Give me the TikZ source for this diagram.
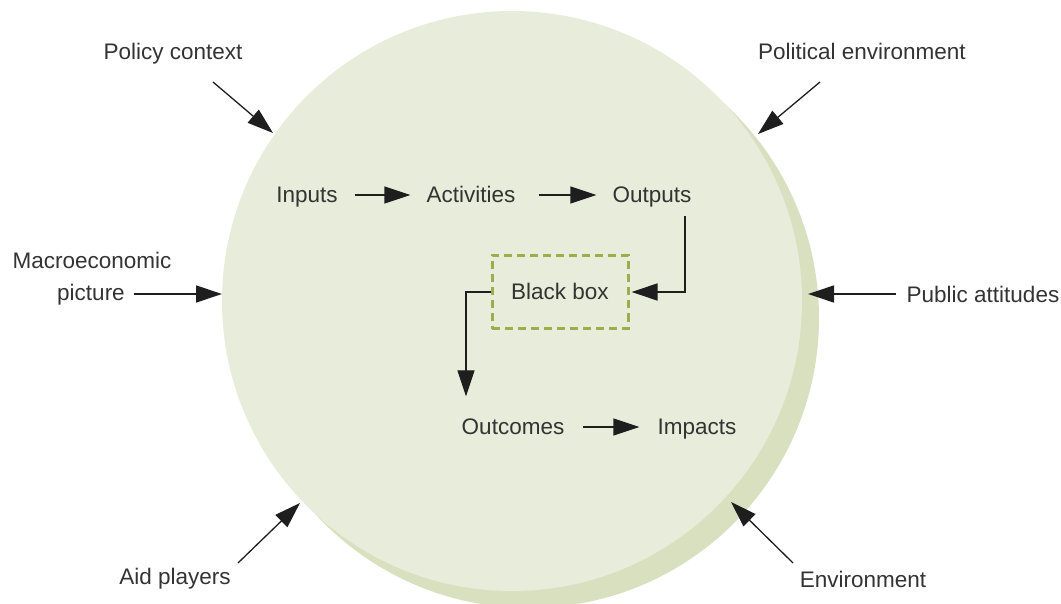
\documentclass[tikz,border=0pt]{standalone}
\usepackage{fontspec}
\setmainfont{Liberation Sans}
\usetikzlibrary{arrows.meta}
\definecolor{circfill}{HTML}{E8ECDA}
\definecolor{shadowfill}{HTML}{D9E0BF}
\definecolor{boxdash}{HTML}{9AAE4C}
\definecolor{txt}{HTML}{333333}
\definecolor{arrowcol}{HTML}{1E1E1E}
\begin{document}
\begin{tikzpicture}[x=1pt,y=-1pt,
  lbl/.style={inner sep=0pt, text=txt, font=\fontsize{22.5}{26}\selectfont,
              text height=16pt, text depth=1pt},
  arr/.style={draw=arrowcol, line width=1.3pt, -{Triangle[length=26pt,width=17pt]}},
  plain/.style={draw=arrowcol, line width=1.3pt}]
\clip (0,0) rectangle (1061,604);
\useasboundingbox (0,0) rectangle (1061,604);
% circles
\fill[shadowfill] (529,318) circle[radius=290];
\fill[circfill] (512,301) circle[radius=290];
% outside labels
\node[lbl] (policy) at (173,52) {Policy context};
\node[lbl] (political) at (862,52) {Political environment};
\node[lbl] (macro) at (92,261) {Macroeconomic};
\node[lbl] (picture) at (91,293) {picture};
\node[lbl] (public) at (983,295) {Public attitudes};
\node[lbl] (aid) at (175,577) {Aid players};
\node[lbl] (env) at (863,580) {Environment};
% coordinates
\coordinate (policyS) at (213,82);
\coordinate (policyT) at (273,133);
\coordinate (politS) at (820,82);
\coordinate (politT) at (758,134);
\coordinate (macroT) at (222,294);
\coordinate (publicT) at (808,294);
\coordinate (aidS) at (238,563);
\coordinate (aidT) at (300,503);
\coordinate (envS) at (793,563);
\coordinate (envT) at (731,502);
\draw[arr] (policyS) -- (policyT);
\draw[arr] (politS) -- (politT);
\draw[arr, shorten <=9pt] (picture.east |- macroT) -- (macroT);
\draw[arr, shorten <=11pt] (public.west |- publicT) -- (publicT);
\draw[arr] (aidS) -- (aidT);
\draw[arr] (envS) -- (envT);
% inside
\node[lbl] (inputs) at (307,195) {Inputs};
\node[lbl] (activities) at (471,195) {Activities};
\node[lbl] (outputs) at (652,195) {Outputs};
\node[lbl, draw=boxdash, line width=3pt, dash pattern=on 8pt off 5pt,
      minimum width=136pt, minimum height=73pt] (bbox) at (560,292) {Black box};
\node[lbl] (outcomes) at (513,427) {Outcomes};
\node[lbl] (impacts) at (697,427) {Impacts};
\draw[arr, shorten <=17pt, shorten >=16pt] (inputs) -- (activities);
\draw[arr, shorten <=23pt, shorten >=16pt] (activities) -- (outputs);
\draw[arr, shorten >=2pt] ([xshift=33pt,yshift=-12pt]outputs.south) |- (bbox.east);
\draw[arr] (bbox.west) -| ([xshift=-47pt,yshift=22pt]outcomes.north);
\draw[arr, shorten <=19pt, shorten >=18pt] (outcomes) -- (impacts);
\end{tikzpicture}
\end{document}
